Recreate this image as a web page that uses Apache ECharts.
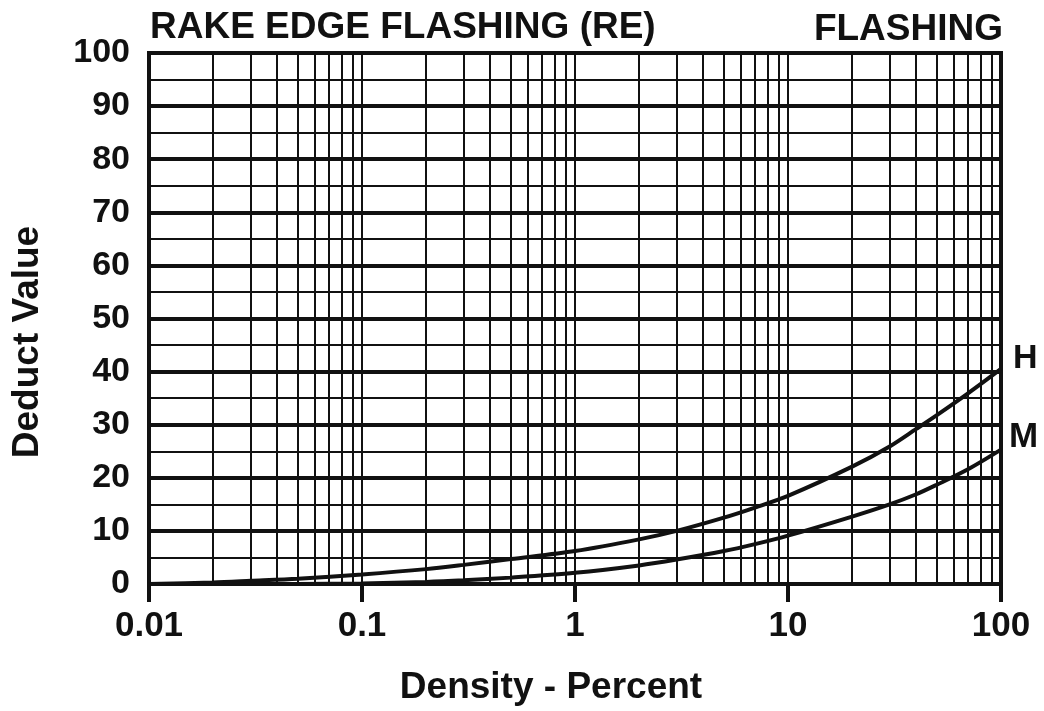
<!DOCTYPE html>
<html>
<head>
<meta charset="utf-8">
<script src="https://cdn.jsdelivr.net/npm/echarts@6/dist/echarts.min.js"></script>
<style>
html, body { margin: 0; padding: 0; background: #fff; }
#chart { width: 1044px; height: 711px; }
</style>
</head>
<body>
<div id="chart"></div>
<script>
// density values (percent)
var densityH = [0.01, 0.02, 0.03, 0.05, 0.1, 0.2, 0.3, 0.5, 1, 2, 3, 5, 7, 10, 20, 30, 40, 50, 70, 100];
var deductH  = [0, 0.3, 0.6, 1.0, 1.8, 2.8, 3.6, 4.7, 6.2, 8.4, 10.0, 12.5, 14.4, 16.6, 22.1, 25.9, 29.2, 31.8, 35.9, 40.5];
var densityM = [0.01, 0.05, 0.1, 0.2, 0.3, 0.5, 1, 2, 3, 5, 7, 10, 20, 30, 40, 50, 70, 100];
var deductM  = [0, 0, 0.1, 0.4, 0.7, 1.2, 2.1, 3.5, 4.6, 6.2, 7.5, 9.1, 12.7, 15.0, 16.9, 18.7, 21.6, 25.3];
var decades = [0.01, 0.1, 1, 10];
var xTickLabels = ['0.01', '0.1', '1', '10', '100'];
var ink = '#111';
var font = 'Liberation Sans, Arial, sans-serif';

function pairs(xs, ys) {
    var out = [];
    for (var i = 0; i < xs.length; i++) out.push([xs[i], ys[i]]);
    return out;
}

// 2..9 lines inside each decade
var minorX = [];
decades.forEach(function (d) {
    for (var k = 2; k <= 9; k++) minorX.push({ xAxis: d * k });
});

var chart = echarts.init(document.getElementById('chart'));
var option = {
    animation: false,
    backgroundColor: '#fff',
    title: [
        { text: 'RAKE EDGE FLASHING (RE)', left: 145, top: 4,
          textStyle: { fontFamily: font, fontWeight: 'bold', fontSize: 37, color: ink } },
        { text: 'FLASHING', right: 36, top: 6,
          textStyle: { fontFamily: font, fontWeight: 'bold', fontSize: 37, color: ink } }
    ],
    graphic: [
        { type: 'text', x: 28, y: 342, rotation: Math.PI / 2,
          style: { text: 'Deduct Value', font: 'bold 37px ' + font, fill: ink,
                   textAlign: 'center', textVerticalAlign: 'middle' } }
    ],
    grid: { left: 149, right: 43, top: 53, bottom: 123, show: true,
            borderColor: ink, borderWidth: 4 },
    xAxis: {
        type: 'log', logBase: 10, min: 0.01, max: 100,
        name: 'Density - Percent', nameLocation: 'middle', nameGap: 85,
        nameTextStyle: { fontFamily: font, fontWeight: 'bold', fontSize: 37, color: ink,
                         padding: [0, 48, 0, 0] },
        axisLine: { show: true, lineStyle: { color: ink, width: 4 } },
        axisTick: { show: true, length: 18, lineStyle: { color: ink, width: 4 } },
        axisLabel: { fontFamily: font, fontWeight: 'bold', fontSize: 35, color: ink, margin: 25,
                     formatter: function (v) { return xTickLabels[Math.round(Math.log10(v)) + 2]; } },
        splitLine: { show: true, lineStyle: { color: ink, width: 2 } }
    },
    yAxis: {
        type: 'value', min: 0, max: 100, interval: 10,
        axisLine: { show: false },
        axisTick: { show: false },
        axisLabel: { fontFamily: font, fontWeight: 'bold', fontSize: 34, color: ink, margin: 19 },
        splitLine: { show: true, lineStyle: { color: ink, width: 4 } },
        minorTick: { show: false, splitNumber: 2 },
        minorSplitLine: { show: true, lineStyle: { color: ink, width: 2 } }
    },
    series: [
        {
            name: 'H', type: 'line', data: pairs(densityH, deductH),
            smooth: 0.3, showSymbol: false,
            lineStyle: { color: ink, width: 4 },
            endLabel: { show: true, formatter: 'H', distance: 12, offset: [0, -10],
                        fontFamily: font, fontWeight: 'bold', fontSize: 34, color: ink },
            markLine: {
                silent: true, symbol: 'none', label: { show: false },
                lineStyle: { type: 'solid', color: ink, width: 2 },
                data: minorX
            }
        },
        {
            name: 'M', type: 'line', data: pairs(densityM, deductM),
            smooth: 0.3, showSymbol: false,
            lineStyle: { color: ink, width: 4 },
            endLabel: { show: true, formatter: 'M', distance: 8, offset: [0, -12],
                        fontFamily: font, fontWeight: 'bold', fontSize: 35, color: ink }
        }
    ]
};
chart.setOption(option);
</script>
</body>
</html>
